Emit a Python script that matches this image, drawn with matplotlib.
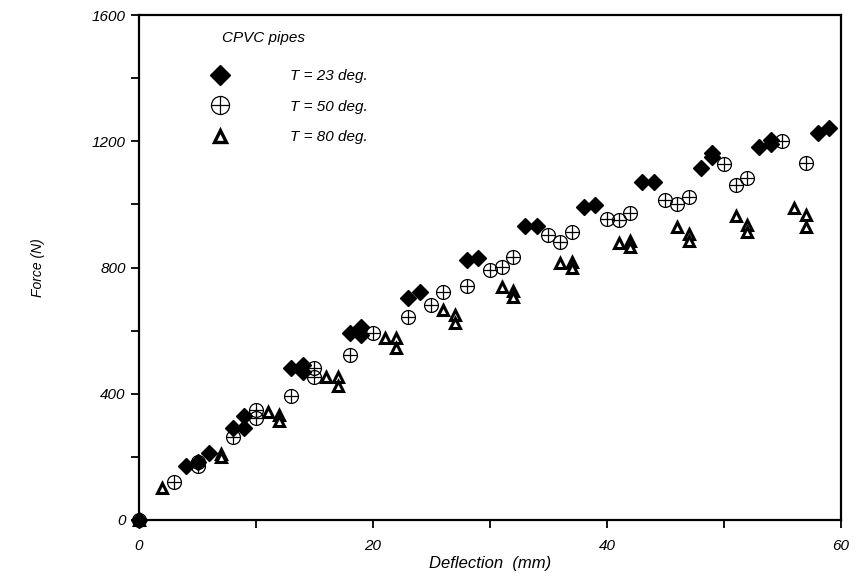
import numpy as np
import matplotlib
matplotlib.use("Agg")
import matplotlib.pyplot as plt
from matplotlib.lines import Line2D
from matplotlib.ticker import MultipleLocator

plt.rcParams['font.family'] = ['Liberation Sans', 'DejaVu Sans']
plt.rcParams['font.style'] = 'italic'

# T = 23 deg. (filled diamonds)
x23 = [0, 4, 5, 6, 8, 9, 9, 13, 14, 14, 18, 19, 19, 23, 24, 28, 29, 33, 34,
       38, 39, 43, 44, 48, 49, 49, 53, 54, 54, 58, 59]
f23 = [0, 171, 184, 213, 291, 291, 330, 482, 491, 469, 593, 612, 586, 703, 722,
       824, 830, 932, 932, 992, 998, 1071, 1071, 1115, 1163, 1150, 1182, 1204,
       1190, 1226, 1242]

# T = 50 deg. (crossed circles)
x50 = [0, 3, 5, 5, 8, 10, 10, 13, 15, 15, 18, 20, 23, 25, 26, 28, 30, 31, 32,
       35, 36, 37, 40, 41, 42, 45, 46, 47, 50, 51, 52, 55, 57]
f50 = [0, 120, 184, 171, 263, 350, 323, 393, 482, 453, 523, 593, 643, 681, 722,
       741, 792, 802, 833, 903, 881, 913, 954, 951, 972, 1014, 1001, 1023, 1128,
       1061, 1083, 1201, 1131]

# T = 80 deg. (open triangles)
x80 = [0, 2, 7, 7, 11, 12, 12, 16, 17, 17, 21, 22, 22, 26, 27, 27, 31, 32, 32,
       36, 37, 37, 41, 42, 42, 46, 47, 47, 51, 52, 52, 56, 57, 57]
f80 = [0, 101, 210, 200, 342, 333, 314, 453, 453, 425, 577, 577, 545, 665, 650,
       624, 738, 726, 707, 814, 817, 800, 878, 884, 865, 928, 906, 884, 963, 935,
       913, 988, 966, 928]

labels = ['T = 23 deg.', 'T = 50 deg.', 'T = 80 deg.']

fig = plt.figure(figsize=(8.56, 5.81), dpi=100)
ax = fig.add_axes([0.1624, 0.105, 0.82, 0.869])

ax.plot(x23, f23, ls='none', marker='D', ms=8.5, mfc='black', mec='black',
        clip_on=False, zorder=4)
ax.plot(x50, f50, ls='none', marker='o', ms=10, mfc='none', mec='black',
        mew=0.9, clip_on=False, zorder=3)
ax.plot(x50, f50, ls='none', marker='+', ms=10, mec='black', mew=0.9,
        clip_on=False, zorder=3)
ax.plot(x80, f80, ls='none', marker='^', ms=7.5, mfc='white', mec='black',
        mew=2.2, clip_on=False, zorder=3)

ax.set_xlim(0, 60)
ax.set_ylim(0, 1600)
ax.xaxis.set_major_locator(MultipleLocator(20))
ax.xaxis.set_minor_locator(MultipleLocator(10))
ax.yaxis.set_major_locator(MultipleLocator(400))
ax.yaxis.set_minor_locator(MultipleLocator(200))
ax.tick_params(which='both', direction='out', length=6, width=1.3,
               labelsize=11, top=False, right=False)
ax.tick_params(axis='x', pad=8)
for lab in ax.get_xticklabels() + ax.get_yticklabels():
    lab.set_style('italic')
for s in ax.spines.values():
    s.set_linewidth(1.6)

ax.set_xlabel('Deflection  (mm)', fontsize=12, labelpad=2, style='italic')
ax.set_ylabel('Force (N)', fontsize=10, labelpad=34, style='italic')

# legend
h1 = Line2D([], [], ls='none', marker='D', ms=10, mfc='black', mec='black')
h2a = Line2D([], [], ls='none', marker='o', ms=13, mfc='none', mec='black',
             mew=0.9)
h2b = Line2D([], [], ls='none', marker='+', ms=13, mec='black', mew=0.9)
h3 = Line2D([], [], ls='none', marker='^', ms=8, mfc='white', mec='black',
            mew=2.4)
leg = ax.legend([h1, (h2a, h2b), h3], labels, loc='upper left',
                bbox_to_anchor=(0.08, 0.92), frameon=False, fontsize=11,
                handletextpad=3.8, labelspacing=1.08, handlelength=1.5)
ax.text(0.118, 0.954, 'CPVC pipes', transform=ax.transAxes, fontsize=11,
        style='italic', ha='left', va='center')

fig.savefig('out.png', dpi=100)
